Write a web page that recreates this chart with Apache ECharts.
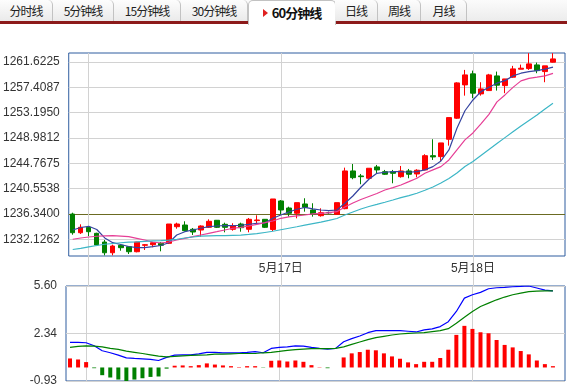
<!DOCTYPE html>
<html><head><meta charset="utf-8">
<script src="https://cdn.jsdelivr.net/npm/echarts@6/dist/echarts.min.js"></script>
<style>
html,body{margin:0;padding:0;background:#fff;}
#wrap{position:relative;width:567px;height:387px;overflow:hidden;}
#chart{position:absolute;left:0;top:0;width:567px;height:387px;}
#tabs{position:absolute;left:0;top:0;width:567px;height:26px;z-index:2;}
.bar{position:absolute;left:0;top:0;width:567px;height:21px;background:linear-gradient(#fbfbfb,#ececec);}
.rl{position:absolute;left:0;top:21px;width:567px;height:3px;background:#8c1a1a;}
.tab{position:absolute;top:0;height:21px;box-sizing:border-box;border-right:1px solid #c2c2c2;border-top-right-radius:5px;background:linear-gradient(#fdfdfd,#eaeaea);font-family:"Noto Sans CJK SC",sans-serif;font-size:12px;color:#222;text-align:center;line-height:21px;letter-spacing:-1px;}
.tab.on{top:0;height:25px;background:#fff;border:1px solid #c2c2c2;border-bottom:none;border-radius:5px 5px 0 0;font-weight:bold;font-size:13px;color:#111;line-height:23px;}
.tri{display:inline-block;width:0;height:0;border-top:4px solid transparent;border-bottom:4px solid transparent;border-left:5px solid #e02020;margin-right:4px;vertical-align:1px;}
</style>
</head><body>
<div id="wrap">
<div id="chart"></div>
<div id="tabs"><div class="bar"></div><div class="rl"></div></div>
</div>
<script>
// ---------- data ----------
const tabNames = ['分时线','5分钟线','15分钟线','30分钟线','60分钟线','日线','周线','月线'];
const activeTab = 4;

const categories = [
 '5/15 22:00','5/15 23:00',
 '5/16 00:00','5/16 01:00','5/16 02:00','5/16 03:00','5/16 04:00','5/16 05:00','5/16 06:00','5/16 07:00',
 '5/16 08:00','5/16 09:00','5/16 10:00','5/16 11:00','5/16 12:00','5/16 13:00','5/16 14:00','5/16 15:00',
 '5/16 16:00','5/16 17:00','5/16 18:00','5/16 19:00','5/16 20:00','5/16 21:00','5/16 22:00','5/16 23:00',
 '5/17 00:00','5/17 01:00','5/17 02:00','5/17 03:00','5/17 04:00','5/17 05:00','5/17 06:00','5/17 07:00',
 '5/17 08:00','5/17 09:00','5/17 10:00','5/17 11:00','5/17 12:00','5/17 13:00','5/17 14:00','5/17 15:00',
 '5/17 16:00','5/17 17:00','5/17 18:00','5/17 19:00','5/17 20:00','5/17 21:00','5/17 22:00','5/17 23:00',
 '5/18 00:00','5/18 01:00','5/18 02:00','5/18 03:00','5/18 04:00','5/18 05:00','5/18 06:00','5/18 07:00',
 '5/18 08:00','5/18 09:00','5/18 10:00','5/18 11:00'
];
const dayLines = ['5/16 00:00','5/17 00:00','5/18 00:00'];
const labelCats = ['5/17 00:00','5/18 00:00'];
const labelTexts = ['5月17日','5月18日'];

const opens = [1236.33,1233.22,1234.12,1233.12,1231.67,1229.89,1231.13,1230.90,1230.06,1231.13,
 1231.23,1231.46,1231.46,1234.22,1234.50,1233.79,1233.67,1234.12,1235.29,1234.62,
 1233.79,1234.67,1233.79,1235.23,1235.45,1233.76,1238.50,1237.33,1236.45,1238.00,
 1237.00,1236.05,1236.55,1236.28,1237.22,1243.49,1242.66,1242.27,1244.16,1243.37,
 1243.37,1242.54,1243.49,1242.99,1243.66,1246.03,1245.87,1248.76,1252.26,1257.80,
 1259.63,1256.30,1256.85,1259.29,1257.68,1259.08,1260.41,1260.51,1261.12,1260.01,1261.57];
const closes = [1233.22,1234.12,1233.39,1231.18,1229.89,1231.01,1230.73,1230.06,1231.67,1231.23,
 1231.56,1231.13,1234.67,1234.67,1233.56,1233.34,1234.34,1235.12,1234.12,1234.12,
 1234.39,1234.06,1235.45,1235.34,1234.12,1238.83,1237.00,1236.45,1238.22,1237.45,
 1236.33,1236.55,1236.55,1238.22,1243.49,1242.37,1242.54,1243.94,1243.66,1242.94,
 1243.10,1243.49,1242.94,1243.61,1246.03,1245.82,1248.15,1252.36,1258.13,1259.46,
 1256.42,1257.13,1259.46,1257.75,1258.79,1260.46,1260.57,1261.29,1260.17,1260.96,1262.12];
const lows = [1232.89,1233.01,1232.67,1231.00,1229.46,1229.46,1230.23,1229.68,1229.96,1230.35,
 1230.80,1230.13,1231.34,1233.89,1233.45,1232.84,1232.56,1234.01,1234.00,1233.29,
 1233.56,1233.39,1233.29,1234.50,1234.00,1233.50,1236.33,1235.89,1235.62,1236.72,
 1235.89,1235.89,1236.39,1236.17,1237.12,1242.11,1241.28,1242.11,1243.10,1242.82,
 1241.44,1242.37,1242.27,1242.43,1243.60,1245.32,1245.15,1247.70,1252.14,1256.01,
 1255.58,1256.01,1256.80,1256.85,1256.42,1258.96,1260.40,1260.29,1259.74,1258.24,1261.50];
const highs = [1236.55,1234.62,1234.22,1233.22,1232.01,1231.23,1231.34,1231.01,1231.72,1231.34,
 1231.67,1231.67,1234.67,1234.89,1235.12,1234.01,1234.45,1235.45,1235.34,1234.89,
 1234.79,1234.89,1235.67,1236.12,1235.50,1238.83,1238.66,1237.55,1238.22,1238.95,
 1238.12,1237.28,1236.72,1238.22,1244.04,1244.65,1242.99,1243.94,1244.49,1243.66,
 1243.66,1244.32,1243.82,1243.77,1246.27,1248.76,1248.15,1252.36,1258.24,1260.29,
 1260.17,1258.24,1259.63,1260.01,1258.80,1260.96,1261.17,1263.07,1261.51,1260.96,1263.07];

const ma5 = [1233.67,1234.09,1234.29,1233.76,1232.35,1231.56,1231.26,1230.93,1230.73,1230.73,
 1230.90,1231.10,1231.56,1232.84,1233.39,1233.67,1233.96,1234.22,1234.34,1234.42,
 1234.39,1234.46,1234.62,1234.79,1234.84,1235.62,1236.17,1236.67,1237.12,1237.42,
 1237.17,1237.00,1236.89,1237.00,1238.12,1239.33,1240.78,1242.11,1243.10,1243.27,
 1243.37,1243.37,1243.27,1243.37,1243.66,1244.21,1245.15,1246.98,1250.59,1253.50,
 1255.29,1256.68,1257.41,1258.08,1258.51,1259.29,1259.74,1260.01,1260.17,1260.41,1260.74];
const ma10 = [1232.13,1232.34,1232.51,1232.63,1232.71,1232.73,1232.67,1232.56,1232.29,1232.01,
 1231.68,1231.51,1231.68,1232.01,1232.29,1232.56,1232.84,1233.12,1233.39,1233.67,
 1233.96,1234.12,1234.34,1234.62,1234.89,1235.17,1235.62,1235.84,1236.01,1236.17,
 1236.34,1236.45,1236.55,1236.72,1237.50,1238.17,1238.75,1239.25,1239.75,1240.33,
 1240.71,1241.16,1241.71,1242.27,1243.10,1243.66,1244.21,1245.32,1246.98,1248.65,
 1249.81,1251.31,1252.89,1254.97,1256.13,1257.38,1258.46,1258.88,1259.08,1259.29,1259.71];
const ma20 = [1230.43,1230.63,1230.88,1231.10,1231.30,1231.43,1231.55,1231.65,1231.71,1231.78,
 1231.85,1231.91,1231.98,1232.13,1232.34,1232.51,1232.64,1232.69,1232.73,1232.73,
 1232.78,1232.83,1232.93,1233.06,1233.26,1233.46,1233.71,1233.96,1234.21,1234.47,
 1234.72,1234.97,1235.26,1235.59,1236.17,1236.67,1237.17,1237.58,1237.92,1238.28,
 1238.66,1239.05,1239.38,1239.78,1240.28,1240.83,1241.49,1242.24,1243.16,1244.24,
 1245.07,1246.07,1247.07,1248.06,1249.03,1250.01,1250.97,1251.89,1252.80,1253.80,1254.75];

const dif = [1.72,1.72,1.70,1.49,1.15,1.01,0.85,0.66,0.62,0.59,
 0.55,0.48,0.69,0.85,0.87,0.87,0.94,1.04,1.04,1.01,
 1.01,1.01,1.04,1.09,1.01,1.31,1.38,1.42,1.49,1.47,
 1.38,1.31,1.26,1.31,1.77,1.98,2.16,2.39,2.53,2.53,
 2.53,2.53,2.49,2.44,2.58,2.65,2.81,3.15,3.85,4.77,
 5.00,5.16,5.41,5.48,5.51,5.55,5.57,5.60,5.46,5.32,5.27];
const dea = [1.38,1.45,1.49,1.47,1.42,1.31,1.24,1.12,1.04,0.96,
 0.87,0.78,0.73,0.76,0.80,0.83,0.85,0.87,0.92,0.92,
 0.94,0.96,0.96,0.96,1.01,1.04,1.10,1.17,1.22,1.26,
 1.29,1.29,1.29,1.31,1.42,1.59,1.75,1.91,2.05,2.14,
 2.23,2.30,2.35,2.37,2.39,2.46,2.53,2.67,3.04,3.45,
 3.85,4.19,4.42,4.65,4.84,5.00,5.11,5.21,5.25,5.27,5.27];
const macdHist = [0.62,0.55,0.37,-0.05,-0.53,-0.69,-0.83,-0.93,-0.83,-0.74,
 -0.65,-0.62,-0.08,0.12,0.14,0.09,0.16,0.28,0.20,0.14,
 0.09,0.03,0.09,0.09,-0.02,0.46,0.48,0.41,0.48,0.39,
 0.16,0.02,-0.05,0.00,0.69,0.97,1.06,1.22,1.18,0.97,
 0.76,0.60,0.35,0.23,0.39,0.39,0.65,1.22,2.24,2.86,
 2.65,2.42,2.35,1.89,1.55,1.38,1.13,0.90,0.48,0.23,0.09];

const priceTicks = [1232.1262,1236.3400,1240.5538,1244.7675,1248.9812,1253.1950,1257.4087,1261.6225];
const macdTicks = [-0.93,2.34,5.60];
const prevClose = 1236.34;

// ---------- tabs ----------
const tabEdges = [0,53,114,181,248,335,378,421,467];
const tabsEl = document.getElementById('tabs');
tabNames.forEach((name,i)=>{
  const d = document.createElement('div');
  d.className = 'tab' + (i===activeTab?' on':'');
  d.style.left = tabEdges[i]+'px';
  d.style.width = (tabEdges[i+1]-tabEdges[i]+(i===activeTab?1:0))+'px';
  if(i===activeTab){
    const t=document.createElement('span'); t.className='tri'; d.appendChild(t);
  }
  d.appendChild(document.createTextNode(name));
  tabsEl.appendChild(d);
});

// ---------- chart ----------
const chart = echarts.init(document.getElementById('chart'), null, {renderer:'canvas'});
const grid = '#d2d2d2';
const font = "'Liberation Sans','Noto Sans CJK SC',sans-serif";
const candleData = opens.map((o,i)=>[o,closes[i],lows[i],highs[i]]);

chart.setOption({
  animation:false,
  grid:[
    {left:66,top:53,width:499,height:203,show:true,borderColor:'#2f5d9f',borderWidth:1,backgroundColor:'transparent'},
    {left:66,top:286,width:499,height:95,show:true,borderColor:'#2f5d9f',borderWidth:1,backgroundColor:'transparent'}
  ],
  xAxis:[
    {type:'category',gridIndex:0,data:categories,boundaryGap:true,
     axisLine:{show:false},
     axisTick:{show:true,alignWithLabel:true,length:30,interval:(i,v)=>dayLines.includes(v),lineStyle:{color:grid}},
     axisLabel:{interval:(i,v)=>labelCats.includes(v),formatter:v=>{const k=labelCats.indexOf(v);return k>=0?labelTexts[k]:'';},
       color:'#333',fontSize:12,margin:7,fontFamily:font},
     splitLine:{show:false}},
    {type:'category',gridIndex:1,data:categories,boundaryGap:true,
     axisLine:{show:false},axisTick:{show:false},axisLabel:{show:false},splitLine:{show:false}}
  ],
  yAxis:[
    {type:'value',gridIndex:0,min:1229.35,max:1263.1,
     axisLine:{show:false},
     axisTick:{show:false,customValues:priceTicks},
     axisLabel:{customValues:priceTicks,formatter:v=>v.toFixed(4),color:'#333',fontSize:12,margin:9,fontFamily:font},
     splitLine:{show:true,lineStyle:{color:grid,width:1}}},
    {type:'value',gridIndex:1,min:-0.93,max:5.60,
     axisLine:{show:false},
     axisTick:{show:false,customValues:macdTicks},
     axisLabel:{customValues:macdTicks,formatter:v=>v.toFixed(2),color:'#333',fontSize:12,margin:9,fontFamily:font},
     splitLine:{show:true,lineStyle:{color:grid,width:1}}}
  ],
  series:[
    {type:'candlestick',xAxisIndex:0,yAxisIndex:0,data:candleData,barWidth:5,
     itemStyle:{color:'#ff0000',color0:'#008000',borderColor:'#ff0000',borderColor0:'#008000',borderColorDoji:'#333333',borderWidth:1},
     markLine:{silent:true,symbol:'none',animation:false,z:1,label:{show:false},
       data:[{yAxis:prevClose,lineStyle:{color:'#6b6b22',width:1,type:'solid'}}]
         .concat(dayLines.map(d=>({xAxis:d,lineStyle:{color:grid,width:1,type:'solid'}})))}
    },
    {type:'line',xAxisIndex:0,yAxisIndex:0,data:ma5,symbol:'none',lineStyle:{color:'#3544a0',width:1.2}},
    {type:'line',xAxisIndex:0,yAxisIndex:0,data:ma10,symbol:'none',lineStyle:{color:'#e63f96',width:1.2}},
    {type:'line',xAxisIndex:0,yAxisIndex:0,data:ma20,symbol:'none',lineStyle:{color:'#3cb6c6',width:1.2}},
    {type:'bar',xAxisIndex:1,yAxisIndex:1,data:macdHist,barWidth:4,
     itemStyle:{color:p=>p.value>=0?'#ff0000':'#008000'},
     markLine:{silent:true,symbol:'none',animation:false,z:1,label:{show:false},
       data:dayLines.map(d=>({xAxis:d,lineStyle:{color:grid,width:1,type:'solid'}}))}
    },
    {type:'line',xAxisIndex:1,yAxisIndex:1,data:dif,symbol:'none',lineStyle:{color:'#0000ff',width:1.2}},
    {type:'line',xAxisIndex:1,yAxisIndex:1,data:dea,symbol:'none',lineStyle:{color:'#008000',width:1.2}}
  ]
});
</script>
</body></html>
